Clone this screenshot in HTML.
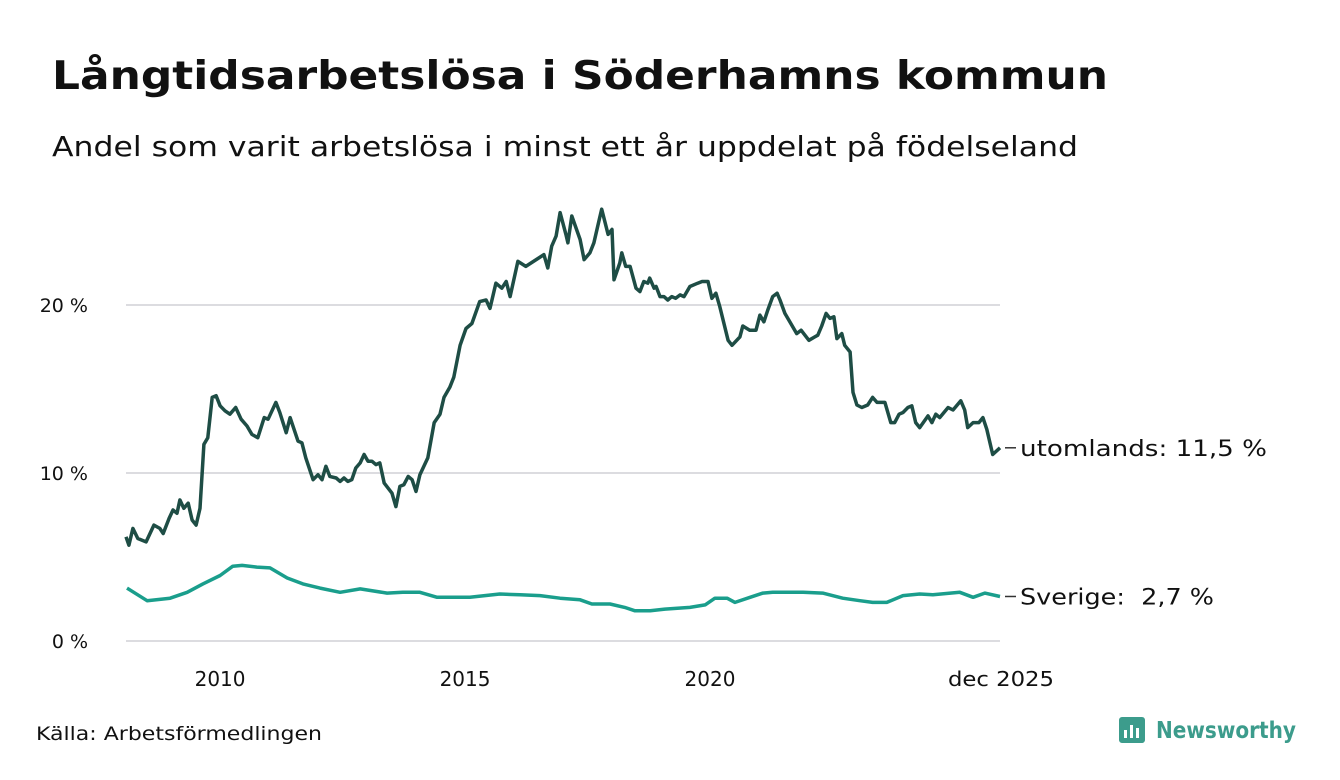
<!DOCTYPE html>
<html><head><meta charset="utf-8"><style>
html,body{margin:0;padding:0;background:#fff;width:1340px;height:780px;overflow:hidden}
svg text{font-family:"DejaVu Sans","Liberation Sans",sans-serif}
</style></head><body>
<svg width="1340" height="780">
<text x="52" y="89" font-size="39" font-weight="bold" fill="#111" textLength="1056" lengthAdjust="spacingAndGlyphs">Långtidsarbetslösa i Söderhamns kommun</text>
<text x="52" y="156" font-size="28" fill="#111" textLength="1026" lengthAdjust="spacingAndGlyphs">Andel som varit arbetslösa i minst ett år uppdelat på födelseland</text>
<g id="grid"></g><g id="lines"></g><g id="labels"></g>
<text x="36" y="740" font-size="19" fill="#111" textLength="286" lengthAdjust="spacingAndGlyphs">Källa: Arbetsförmedlingen</text>
<g>
<rect x="1119" y="717" width="26" height="26" rx="3" fill="#3c9c8c"/>
<rect x="1124" y="730" width="3" height="8" fill="#fff"/><rect x="1130" y="725" width="3" height="13" fill="#fff"/><rect x="1136" y="728" width="3" height="10" fill="#fff"/>
<text x="1156" y="738" font-size="23" font-weight="bold" fill="#3c9c8c" textLength="140" lengthAdjust="spacingAndGlyphs">Newsworthy</text>
</g>
</svg>
<script>
const yTicks=[0,10,20];
const xTicks=[2010,2015,2020];
const utTimes=[2008.08,2008.14,2008.22,2008.32,2008.49,2008.65,2008.77,2008.84,2008.96,2009.04,2009.12,2009.18,2009.26,2009.35,2009.43,2009.51,2009.59,2009.67,2009.75,2009.84,2009.92,2010.00,2010.10,2010.20,2010.32,2010.43,2010.55,2010.65,2010.77,2010.90,2010.98,2011.14,2011.22,2011.35,2011.43,2011.59,2011.67,2011.75,2011.90,2012.00,2012.08,2012.16,2012.24,2012.37,2012.45,2012.53,2012.61,2012.69,2012.77,2012.86,2012.94,2013.02,2013.10,2013.18,2013.26,2013.35,2013.51,2013.59,2013.67,2013.75,2013.84,2013.92,2014.00,2014.08,2014.24,2014.37,2014.49,2014.57,2014.69,2014.77,2014.90,2015.02,2015.14,2015.30,2015.43,2015.51,2015.63,2015.75,2015.84,2015.92,2016.08,2016.24,2016.61,2016.69,2016.77,2016.86,2016.94,2017.06,2017.10,2017.18,2017.35,2017.43,2017.55,2017.63,2017.75,2017.79,2017.92,2018.00,2018.04,2018.16,2018.20,2018.28,2018.37,2018.49,2018.57,2018.65,2018.73,2018.77,2018.86,2018.90,2018.98,2019.06,2019.14,2019.22,2019.30,2019.39,2019.47,2019.59,2019.75,2019.84,2019.96,2020.04,2020.12,2020.20,2020.37,2020.45,2020.61,2020.67,2020.81,2020.94,2021.02,2021.10,2021.18,2021.28,2021.37,2021.43,2021.53,2021.63,2021.77,2021.86,2022.02,2022.14,2022.20,2022.28,2022.37,2022.45,2022.53,2022.59,2022.69,2022.75,2022.86,2022.92,2023.00,2023.10,2023.22,2023.32,2023.41,2023.57,2023.69,2023.77,2023.86,2023.94,2024.04,2024.12,2024.20,2024.28,2024.45,2024.53,2024.61,2024.69,2024.86,2024.96,2025.12,2025.20,2025.26,2025.37,2025.49,2025.57,2025.65,2025.77,2025.92];
const utValues=[6.2,5.7,6.7,6.1,5.9,6.9,6.7,6.4,7.3,7.8,7.6,8.4,7.9,8.2,7.2,6.9,7.9,11.7,12.1,14.5,14.6,14.0,13.7,13.5,13.9,13.2,12.8,12.3,12.1,13.3,13.2,14.2,13.6,12.4,13.3,11.9,11.8,10.9,9.6,9.9,9.6,10.4,9.8,9.7,9.5,9.7,9.5,9.6,10.3,10.6,11.1,10.7,10.7,10.5,10.6,9.4,8.8,8.0,9.2,9.3,9.8,9.6,8.9,9.9,10.9,13.0,13.5,14.5,15.1,15.7,17.6,18.6,18.9,20.2,20.3,19.8,21.3,21.0,21.4,20.5,22.6,22.3,23.0,22.2,23.5,24.1,25.5,24.2,23.7,25.3,23.9,22.7,23.1,23.7,25.2,25.7,24.2,24.5,21.5,22.5,23.1,22.3,22.3,21.0,20.8,21.4,21.3,21.6,21.0,21.1,20.5,20.5,20.3,20.5,20.4,20.6,20.5,21.1,21.3,21.4,21.4,20.4,20.7,19.9,17.9,17.6,18.1,18.75,18.5,18.5,19.4,19.0,19.7,20.5,20.7,20.3,19.5,19.0,18.3,18.5,17.9,18.1,18.2,18.75,19.5,19.2,19.3,18.0,18.3,17.6,17.2,14.8,14.05,13.9,14.05,14.5,14.2,14.2,13.0,13.0,13.5,13.6,13.9,14.0,13.0,12.7,13.4,13.0,13.5,13.3,13.9,13.75,14.3,13.75,12.7,13.0,13.0,13.3,12.6,11.1,11.5];
const seTimes=[2008.10,2008.51,2008.98,2009.33,2009.65,2010.00,2010.26,2010.45,2010.75,2011.02,2011.37,2011.69,2012.04,2012.45,2012.86,2013.41,2013.73,2014.08,2014.43,2015.10,2015.71,2016.12,2016.53,2016.94,2017.35,2017.59,2017.96,2018.26,2018.47,2018.78,2019.08,2019.59,2019.90,2020.10,2020.35,2020.51,2020.82,2021.08,2021.28,2021.90,2022.30,2022.71,2023.06,2023.32,2023.61,2023.94,2024.28,2024.55,2025.10,2025.37,2025.61,2025.92];
const seValues=[3.15,2.4,2.55,2.9,3.4,3.9,4.45,4.5,4.4,4.35,3.75,3.4,3.15,2.9,3.1,2.85,2.9,2.9,2.6,2.6,2.8,2.75,2.7,2.55,2.45,2.2,2.2,2.0,1.8,1.8,1.9,2.0,2.15,2.55,2.55,2.3,2.6,2.85,2.9,2.9,2.85,2.55,2.4,2.3,2.3,2.7,2.8,2.75,2.9,2.6,2.85,2.65];
const endLabels=["utomlands: 11,5 %","Sverige:\u00a0\u00a02,7 %"];
const X0=126,X1=1000,T0=2008.08,T1=2025.92;
const xs=t=>X0+(t-T0)/(T1-T0)*(X1-X0);
const ys=v=>641-v*16.8;
const NS="http://www.w3.org/2000/svg";
function mk(tag,attrs,parent){const e=document.createElementNS(NS,tag);for(const k in attrs)e.setAttribute(k,attrs[k]);parent.appendChild(e);return e;}
const grid=document.getElementById('grid'),lines=document.getElementById('lines'),labels=document.getElementById('labels');
yTicks.forEach(v=>{
 const l=mk('line',{x1:X0,x2:X1,y1:ys(v),y2:ys(v),stroke:'#dcdce0','stroke-width':2},grid);
 
 
 const t=mk('text',{x:88,y:ys(v)+7,'text-anchor':'end','font-size':19,fill:'#111'},labels);
 t.textContent=v+' %';
 
 
});
xTicks.forEach(y=>{
 const t=mk('text',{x:xs(y),y:686,'text-anchor':'middle','font-size':20,fill:'#111'},labels);
 t.textContent=y;
 
 
});
const lt=mk('text',{x:X1+1,y:686,'text-anchor':'middle','font-size':20,fill:'#111',textLength:106,lengthAdjust:'spacingAndGlyphs'},labels);
lt.textContent='dec 2025';


const labW=[247,194];
function series(times,vals,color,name,label,w){
 const d=times.map((t,i)=>(i?'L':'M')+xs(t).toFixed(1)+','+ys(vals[i]).toFixed(1)).join('');
 const p=mk('path',{d:d,fill:'none',stroke:color,'stroke-width':3.5,'stroke-linejoin':'round'},lines);
 
 
 const ly=ys(vals[vals.length-1]);
 mk('line',{x1:1005,x2:1016,y1:ly,y2:ly,stroke:'#333','stroke-width':1.5},labels);
 const t=mk('text',{x:1020,y:ly+8,'font-size':22,fill:'#111',textLength:w,lengthAdjust:'spacingAndGlyphs'},labels);
 t.textContent=label;
 
 
}
series(seTimes,seValues,'#1a9e8c','line-sverige',endLabels[1],labW[1]);
series(utTimes,utValues,'#1e4d45','line-utomlands',endLabels[0],labW[0]);
</script>
</body></html>
